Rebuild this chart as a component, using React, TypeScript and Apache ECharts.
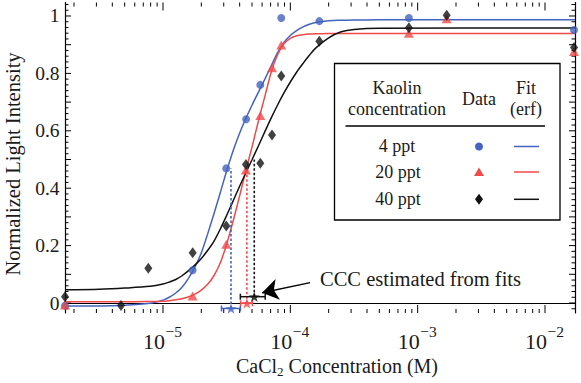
import React, { useEffect, useRef } from "react";
import * as echarts from "echarts";

// ---- data ----
const xMin = 1.7e-6;
const xMax = 1.72e-2;
const yMin = -0.0348;
const yMax = 1.047;

const yTickLabels = ["0", "0.2", "0.4", "0.6", "0.8", "1"];
const xTickValues = [1e-5, 1e-4, 1e-3, 1e-2];
const xTickExponents = ["−5", "−4", "−3", "−2"];

const conc4 = [1.7e-6, 1.71e-5, 3.14e-5, 4.5e-5, 5.81e-5, 8.49e-5, 1.69e-4, 8.53e-4, 1.69e-2];
const int4 = [-0.009, 0.114, 0.469, 0.64, 0.76, 0.993, 0.982, 0.993, 0.951];

const conc20 = [1.7e-6, 1.71e-5, 3.14e-5, 4.48e-5, 5.81e-5, 7.18e-5, 8.49e-5, 8.53e-4, 1.69e-3, 1.69e-2];
const int20 = [-0.007, 0.024, 0.205, 0.463, 0.653, 0.82, 0.899, 0.94, 0.99, 0.876];

const conc40 = [1.7e-6, 4.68e-6, 7.67e-6, 1.71e-5, 3.14e-5, 4.48e-5, 5.81e-5, 7.18e-5, 8.49e-5, 1.69e-4, 8.53e-4, 1.69e-3, 1.69e-2];
const int40 = [0.022, -0.009, 0.121, 0.175, 0.268, 0.483, 0.487, 0.585, 0.791, 0.912, 0.959, 1.003, 0.89];

// fitted erf curves on a common concentration grid
const fitConc = [
  1.7e-6, 3.16e-6, 5.01e-6, 7.94e-6, 1.0e-5, 1.12e-5, 1.26e-5, 1.41e-5, 1.58e-5, 1.78e-5, 2.0e-5, 2.24e-5,
  2.51e-5, 2.82e-5, 3.16e-5, 3.55e-5, 3.98e-5, 4.47e-5, 5.01e-5, 5.62e-5, 6.31e-5, 7.08e-5, 7.94e-5, 8.91e-5,
  1.0e-4, 1.12e-4, 1.26e-4, 1.41e-4, 1.58e-4, 2.0e-4, 2.51e-4, 3.16e-4, 5.01e-4, 1.72e-2,
];
const fit4 = [
  -0.01, -0.01, -0.008, -0.001, 0.01, 0.02, 0.035, 0.055, 0.085, 0.125, 0.175, 0.24,
  0.31, 0.385, 0.46, 0.53, 0.59, 0.643, 0.69, 0.735, 0.78, 0.826, 0.872, 0.908,
  0.932, 0.949, 0.962, 0.971, 0.977, 0.983, 0.985, 0.986, 0.987, 0.987,
];
const fit20 = [
  0.004, 0.004, 0.004, 0.005, 0.006, 0.008, 0.011, 0.015, 0.021, 0.031, 0.045, 0.065,
  0.095, 0.14, 0.205, 0.285, 0.37, 0.46, 0.545, 0.635, 0.72, 0.805, 0.865, 0.903,
  0.922, 0.931, 0.935, 0.937, 0.938, 0.939, 0.939, 0.939, 0.939, 0.939,
];
const fit40 = [
  0.046, 0.048, 0.052, 0.058, 0.066, 0.073, 0.082, 0.095, 0.112, 0.132, 0.155, 0.183,
  0.215, 0.258, 0.305, 0.355, 0.405, 0.453, 0.5, 0.548, 0.597, 0.645, 0.69, 0.732,
  0.77, 0.804, 0.835, 0.863, 0.888, 0.924, 0.945, 0.953, 0.957, 0.958,
];

// CCC estimated from fits
const cccConc = [3.42e-5, 4.56e-5, 5.21e-5];
const cccY = [-0.019, -0.001, 0.022];
const cccLo = [2.88e-5, 4.07e-5, 4.05e-5];
const cccHi = [4.05e-5, 5.04e-5, 6.35e-5];
const cccTop = [0.469, 0.463, 0.5];

const arrowFrom = [1.43e-4, 0.071];
const arrowTo = [6.0e-5, 0.036];

const seriesNames = ["4 ppt", "20 ppt", "40 ppt"];
const colors = ["#4463BF", "#F04A4A", "#111111"];

const FONT = "'Liberation Serif', 'Times New Roman', serif";
const TXT = "#1a1a1a";
const STAR = "path://M0,-10L2.35,-3.24L9.51,-3.09L3.8,1.24L5.88,8.09L0,4L-5.88,8.09L-3.8,1.24L-9.51,-3.09L-2.35,-3.24Z";

const zip = (a: number[], b: number[]) => a.map((v, i) => [v, b[i]]);

export default function App() {
  const ref = useRef<HTMLDivElement>(null);
  useEffect(() => {
    if (!ref.current) return;
    const chart = echarts.init(ref.current, undefined, { renderer: "svg" });

    // axis tick positions (frame ticks, inside)
    const xTicks: number[][] = [];
    for (let e = -6; e <= -2; e++) {
      for (let k = 1; k <= 9; k++) {
        const v = k * Math.pow(10, e);
        if (v > xMin * 1.0001 && v < xMax * 0.9999) xTicks.push([v, yMin, k === 1 ? 8 : 4]);
      }
    }
    const yTicks: number[][] = [];
    for (let i = -1; i <= 52; i++) {
      const v = i * 0.02;
      if (v > yMin && v < yMax) yTicks.push([xMin, v, i % 5 === 0 ? 6 : 3.5]);
    }

    const fits = [zip(fitConc, fit4), zip(fitConc, fit20), zip(fitConc, fit40)];
    const pts = [zip(conc4, int4), zip(conc20, int20), zip(conc40, int40)];
    const symbols: any[] = ["circle", "triangle", "diamond"];
    const symSizes: any[] = [8, [10, 9], [8, 11]];

    const series: any[] = [];
    series.push({
      type: "custom",
      renderItem: (params: any, api: any) => {
        const cs = params.coordSys;
        const px = api.coord([api.value(0), yMin])[0];
        const len = api.value(2);
        const b = cs.y + cs.height;
        return {
          type: "group",
          children: [
            { type: "line", shape: { x1: px, y1: b, x2: px, y2: b - len }, style: { stroke: "#000", lineWidth: 1 } },
            { type: "line", shape: { x1: px, y1: cs.y, x2: px, y2: cs.y + len }, style: { stroke: "#000", lineWidth: 1 } },
          ],
        };
      },
      data: xTicks,
      silent: true,
      z: 1,
    });
    series.push({
      type: "custom",
      renderItem: (params: any, api: any) => {
        const cs = params.coordSys;
        const py = api.coord([xMin, api.value(1)])[1];
        const len = api.value(2);
        const r = cs.x + cs.width;
        return {
          type: "group",
          children: [
            { type: "line", shape: { x1: cs.x, y1: py, x2: cs.x + len, y2: py }, style: { stroke: "#000", lineWidth: 1 } },
            { type: "line", shape: { x1: r, y1: py, x2: r - len, y2: py }, style: { stroke: "#000", lineWidth: 1 } },
          ],
        };
      },
      data: yTicks,
      silent: true,
      z: 1,
    });
    // x tick labels 10^n, positioned by the log axis
    series.push({
      type: "custom",
      renderItem: (params: any, api: any) => {
        const cs = params.coordSys;
        const px = api.coord([api.value(0), yMin])[0];
        const idx = api.value(2);
        const b = cs.y + cs.height;
        return {
          type: "group",
          children: [
            {
              type: "text",
              x: px + 2,
              y: b + 28.5,
              style: { text: "10", fontSize: 22, fontFamily: FONT, fill: TXT, align: "right", verticalAlign: "middle" },
            },
            {
              type: "text",
              x: px + 2.5,
              y: b + 18.5,
              style: { text: xTickExponents[idx], fontSize: 15.5, fontFamily: FONT, fill: TXT, align: "left", verticalAlign: "middle" },
            },
          ],
        };
      },
      data: xTickValues.map((v, i) => [v, yMin, i]),
      clip: false,
      silent: true,
      z: 1,
    });

    for (let i = 0; i < 3; i++) {
      series.push({
        type: "line",
        name: seriesNames[i] + " fit",
        data: fits[i],
        smooth: 0.3,
        showSymbol: false,
        symbol: "none",
        lineStyle: { color: colors[i], width: 1.5 },
        z: 2,
      });
    }
    for (let i = 0; i < 3; i++) {
      series.push({
        type: "line",
        data: [
          [cccConc[i], cccY[i]],
          [cccConc[i], cccTop[i]],
        ],
        symbol: "none",
        lineStyle: { color: colors[i], width: 1.6, type: [2.5, 2] },
        z: 3,
      });
      series.push({
        type: "custom",
        renderItem: (params: any, api: any) => {
          const y = api.value(1);
          const p0 = api.coord([api.value(2), y]);
          const p1 = api.coord([api.value(3), y]);
          const st = { stroke: colors[i], lineWidth: 1.5 };
          return {
            type: "group",
            children: [
              { type: "line", shape: { x1: p0[0], y1: p0[1], x2: p1[0], y2: p1[1] }, style: st },
              { type: "line", shape: { x1: p0[0], y1: p0[1] - 3, x2: p0[0], y2: p0[1] + 3 }, style: st },
              { type: "line", shape: { x1: p1[0], y1: p1[1] - 3, x2: p1[0], y2: p1[1] + 3 }, style: st },
            ],
          };
        },
        data: [[cccConc[i], cccY[i], cccLo[i], cccHi[i]]],
        z: 4,
      });
    }
    for (let i = 0; i < 3; i++) {
      series.push({
        type: "scatter",
        name: seriesNames[i],
        data: pts[i],
        symbol: symbols[i],
        symbolSize: symSizes[i],
        itemStyle: { color: colors[i] },
        clip: false,
        z: 5,
      });
    }
    for (let i = 0; i < 3; i++) {
      series.push({
        type: "scatter",
        data: [[cccConc[i], cccY[i]]],
        symbol: STAR,
        symbolSize: [11, 10.5],
        itemStyle: { color: colors[i] },
        clip: false,
        z: 6,
      });
    }
    series.push({
      type: "lines",
      coordinateSystem: "cartesian2d",
      data: [{ coords: [arrowFrom, arrowTo] }],
      symbol: ["none", "arrow"],
      symbolSize: [8, 16],
      lineStyle: { color: "#000", width: 1.5, opacity: 1 },
      z: 6,
    });

    const frameLine = { show: true, lineStyle: { color: "#000", width: 1.2 } };

    chart.setOption({
      animation: false,
      textStyle: { fontFamily: FONT },
      grid: { left: 65, right: 6, top: 2.5, bottom: 70 },
      xAxis: [
        {
          type: "log",
          logBase: 10,
          min: xMin,
          max: xMax,
          position: "bottom",
          axisLine: frameLine,
          axisTick: { show: false },
          splitLine: { show: false },
          axisLabel: { show: false },
        },
        {
          type: "log",
          logBase: 10,
          min: xMin,
          max: xMax,
          position: "top",
          axisLine: frameLine,
          axisTick: { show: false },
          axisLabel: { show: false },
          splitLine: { show: false },
        },
      ],
      yAxis: [
        {
          type: "value",
          min: yMin,
          max: yMax,
          position: "left",
          axisLine: frameLine,
          axisTick: { show: false },
          splitLine: { show: false },
          axisLabel: {
            fontSize: 19.5,
            fontFamily: FONT,
            color: TXT,
            margin: 5.5,
            formatter: (v: number) => {
              const k = Math.round(v / 0.2);
              if (Math.abs(v - k * 0.2) > 1e-6 || k < 0 || k >= yTickLabels.length) return "";
              return yTickLabels[k];
            },
          },
        },
        {
          type: "value",
          min: yMin,
          max: yMax,
          position: "right",
          axisLine: frameLine,
          axisTick: { show: false },
          axisLabel: { show: false },
          splitLine: { show: false },
        },
      ],
      series,
      graphic: [
        {
          type: "text",
          x: 337,
          y: 366,
          style: {
            text: "{a|CaCl}{s|2}{a| Concentration (M)}",
            align: "center",
            verticalAlign: "middle",
            rich: {
              a: { fontSize: 20, fontFamily: FONT, fill: TXT, lineHeight: 23 },
              s: { fontSize: 13, fontFamily: FONT, fill: TXT, verticalAlign: "bottom", padding: [10, 0, 0, 0] },
            },
          },
        },
        {
          type: "text",
          x: 13,
          y: 164,
          rotation: Math.PI / 2,
          style: {
            text: "Normalized Light Intensity",
            fontSize: 20.5,
            fontFamily: FONT,
            fill: TXT,
            align: "center",
            verticalAlign: "middle",
          },
        },
        {
          type: "text",
          x: 320,
          y: 279,
          style: { text: "CCC estimated from fits", fontSize: 20.5, fontFamily: FONT, fill: TXT, align: "left", verticalAlign: "middle" },
        },
        {
          type: "group",
          children: [
            { type: "rect", shape: { x: 334.5, y: 63.5, width: 225.5, height: 156.5 }, style: { fill: "#fff", stroke: "#000", lineWidth: 1.3 } },
            { type: "text", x: 397, y: 88, style: { text: "Kaolin", fontSize: 18, fontFamily: FONT, fill: TXT, align: "center", verticalAlign: "middle" } },
            { type: "text", x: 397, y: 108.5, style: { text: "concentration", fontSize: 18, fontFamily: FONT, fill: TXT, align: "center", verticalAlign: "middle" } },
            { type: "text", x: 479, y: 98.5, style: { text: "Data", fontSize: 18, fontFamily: FONT, fill: TXT, align: "center", verticalAlign: "middle" } },
            { type: "text", x: 526, y: 88, style: { text: "Fit", fontSize: 18, fontFamily: FONT, fill: TXT, align: "center", verticalAlign: "middle" } },
            { type: "text", x: 526, y: 108.5, style: { text: "(erf)", fontSize: 18, fontFamily: FONT, fill: TXT, align: "center", verticalAlign: "middle" } },
            { type: "line", shape: { x1: 345.5, y1: 126, x2: 545, y2: 126 }, style: { stroke: "#000", lineWidth: 1.3 } },
            { type: "text", x: 397, y: 146, style: { text: seriesNames[0], fontSize: 18, fontFamily: FONT, fill: TXT, align: "center", verticalAlign: "middle" } },
            { type: "text", x: 398, y: 172, style: { text: seriesNames[1], fontSize: 18, fontFamily: FONT, fill: TXT, align: "center", verticalAlign: "middle" } },
            { type: "text", x: 398, y: 198.5, style: { text: seriesNames[2], fontSize: 18, fontFamily: FONT, fill: TXT, align: "center", verticalAlign: "middle" } },
            { type: "circle", shape: { cx: 479, cy: 146.5, r: 4 }, style: { fill: colors[0] } },
            { type: "polygon", shape: { points: [[479, 167.5], [484, 176], [474, 176]] }, style: { fill: colors[1] } },
            { type: "polygon", shape: { points: [[479, 193.8], [483, 199.3], [479, 204.8], [475, 199.3]] }, style: { fill: colors[2] } },
            { type: "line", shape: { x1: 514, y1: 146.5, x2: 539, y2: 146.5 }, style: { stroke: colors[0], lineWidth: 1.5 } },
            { type: "line", shape: { x1: 514, y1: 172, x2: 539, y2: 172 }, style: { stroke: colors[1], lineWidth: 1.5 } },
            { type: "line", shape: { x1: 514, y1: 199.3, x2: 539, y2: 199.3 }, style: { stroke: colors[2], lineWidth: 1.5 } },
          ],
        },
      ],
    });
    return () => chart.dispose();
  }, []);
  return <div ref={ref} style={{ position: "absolute", left: 0, top: 0, width: 581, height: 383 }} />;
}
